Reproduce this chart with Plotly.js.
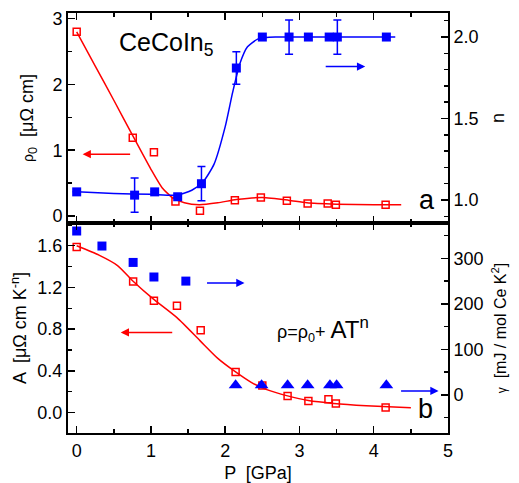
<!DOCTYPE html>
<html>
<head>
<meta charset="utf-8">
<script src="https://cdn.plot.ly/plotly-3.0.1.min.js"></script>
<style>html,body{margin:0;padding:0;background:#fff;}#chart{width:519px;height:483px;}</style>
</head>
<body>
<div id="chart"></div>
<script>
// ---- Panel a: residual resistivity rho0 (left) and exponent n (right) ----
var rhoP   = [0, 0.755, 1.04, 1.33, 1.66, 2.13, 2.48, 2.83, 3.11, 3.38, 3.49, 4.16];
var rho0   = [2.80, 1.19, 0.97, 0.22, 0.08, 0.24, 0.28, 0.23, 0.19, 0.19, 0.17, 0.17];
var rhoFitP = [0, 0.25, 0.5, 0.76, 1.0, 1.15, 1.3, 1.45, 1.65, 1.9, 2.15, 2.5, 2.85, 3.1, 3.5, 4.0, 4.37];
var rhoFit  = [2.80, 2.28, 1.76, 1.21, 0.71, 0.43, 0.27, 0.20, 0.17, 0.20, 0.25, 0.28, 0.24, 0.20, 0.18, 0.17, 0.17];

var nP    = [0, 0.78, 1.05, 1.36, 1.68, 2.15, 2.5, 2.86, 3.12, 3.40, 3.51, 4.17];
var nVal  = [1.05, 1.03, 1.05, 1.02, 1.10, 1.81, 2.0, 2.0, 2.0, 2.0, 2.0, 2.0];
var nErr  = [0, 0.105, 0, 0, 0.105, 0.10, 0, 0.105, 0, 0, 0.105, 0];
var nFitP = [0, 0.5, 1.0, 1.35, 1.55, 1.7, 1.85, 2.0, 2.1, 2.2, 2.3, 2.45, 2.7, 3.0, 4.29];
var nFit  = [1.05, 1.04, 1.035, 1.03, 1.06, 1.11, 1.22, 1.45, 1.66, 1.84, 1.94, 1.99, 2.0, 2.0, 2.0];

// ---- Panel b: coefficient A (left) and Sommerfeld gamma (right) ----
var aP    = [0, 0.76, 1.04, 1.35, 1.67, 2.14, 2.5, 2.84, 3.12, 3.39, 3.49, 4.16];
var aVal  = [1.587, 1.256, 1.073, 1.025, 0.79, 0.39, 0.26, 0.16, 0.11, 0.128, 0.087, 0.048];
var aFitP = [0, 0.3, 0.55, 0.76, 1.03, 1.35, 1.66, 1.9, 2.14, 2.35, 2.56, 2.84, 3.12, 3.46, 3.9, 4.5];
var aFit  = [1.60, 1.51, 1.41, 1.26, 1.09, 0.91, 0.69, 0.52, 0.39, 0.29, 0.22, 0.16, 0.115, 0.087, 0.065, 0.045];

var gSqP  = [0, 0.34, 0.76, 1.04, 1.47];
var gSq   = [360, 327, 291, 259, 250];
var gTriP = [2.14, 2.49, 2.84, 3.11, 3.41, 3.50, 4.17];
var gTri  = [21, 21, 21, 21, 21, 21, 21];

var RED = '#ff0000', BLUE = '#0000ff';
var FONT = 'Liberation Sans, Arial, sans-serif';

var traces = [
  {x: rhoFitP, y: rhoFit, xaxis: 'x2', yaxis: 'y3', mode: 'lines', line: {color: RED, width: 1.5, shape: 'spline', smoothing: 0.6}, hoverinfo: 'skip'},
  {x: rhoP, y: rho0, xaxis: 'x2', yaxis: 'y3', mode: 'markers', marker: {symbol: 'square-open', size: 7, color: RED, line: {width: 1.5, color: RED}}},
  {x: nFitP, y: nFit, xaxis: 'x2', yaxis: 'y4', mode: 'lines', line: {color: BLUE, width: 1.5, shape: 'spline', smoothing: 0.6}, hoverinfo: 'skip'},
  {x: nP, y: nVal, xaxis: 'x2', yaxis: 'y4', mode: 'markers', marker: {symbol: 'square', size: 9, color: BLUE},
   error_y: {type: 'data', array: nErr, visible: true, color: BLUE, thickness: 1.5, width: 4}},
  {x: aFitP, y: aFit, xaxis: 'x', yaxis: 'y', mode: 'lines', line: {color: RED, width: 1.5, shape: 'spline', smoothing: 0.6}, hoverinfo: 'skip'},
  {x: aP, y: aVal, xaxis: 'x', yaxis: 'y', mode: 'markers', marker: {symbol: 'square-open', size: 7, color: RED, line: {width: 1.5, color: RED}}},
  {x: gSqP, y: gSq, xaxis: 'x', yaxis: 'y2', mode: 'markers', marker: {symbol: 'square', size: 9, color: BLUE}},
  {x: gTriP, y: gTri, xaxis: 'x', yaxis: 'y2', mode: 'markers', marker: {symbol: 'triangle-up', size: 12, color: BLUE}}
];

function ax(extra) {
  var base = {
    showline: true, linecolor: 'black', linewidth: 2, ticks: 'inside', ticklen: 7, tickwidth: 1.5,
    tickcolor: 'black', showgrid: false, zeroline: false, tickfont: {family: FONT, size: 18, color: 'black'}
  };
  for (var k in extra) base[k] = extra[k];
  return base;
}

var layout = {
  width: 519, height: 483, showlegend: false,
  paper_bgcolor: 'white', plot_bgcolor: 'white',
  margin: {l: 68, r: 71, t: 13, b: 50},
  font: {family: FONT, color: 'black'},
  xaxis: ax({domain: [0, 1], anchor: 'y', range: [-0.117, 5.0], dtick: 1, tick0: 0, mirror: 'ticks',
             minor: {dtick: 0.5, ticks: 'inside', ticklen: 4, tickwidth: 1.5, tickcolor: 'black'},
             title: {text: 'P  [GPa]', font: {family: FONT, size: 18}, standoff: 7}}),
  yaxis: ax({domain: [0, 0.5], anchor: 'x', range: [-0.196, 1.818], dtick: 0.4, tick0: 0, tickformat: '.1f',
             minor: {dtick: 0.2, ticks: 'inside', ticklen: 4, tickwidth: 1.5, tickcolor: 'black'},
             title: {text: 'A  [μΩ cm K<sup>-n</sup>]', font: {family: FONT, size: 18}, standoff: 6}}),
  yaxis2: ax({overlaying: 'y', side: 'right', anchor: 'x', range: [-83.6, 377.6], dtick: 100, tick0: 0,
             minor: {dtick: 50, ticks: 'inside', ticklen: 4, tickwidth: 1.5, tickcolor: 'black'},
             title: {text: '<span style="font-size:12px">γ</span>  [mJ / mol Ce K<sup>2</sup>]', font: {family: FONT, size: 16}, standoff: 12}}),
  xaxis2: ax({domain: [0, 1], anchor: 'y3', matches: 'x', range: [-0.117, 5.0], dtick: 1, tick0: 0, mirror: 'ticks', showticklabels: false,
             minor: {dtick: 0.5, ticks: 'inside', ticklen: 4, tickwidth: 1.5, tickcolor: 'black'}}),
  yaxis3: ax({domain: [0.5, 1], anchor: 'x2', range: [-0.107, 3.087], dtick: 1, tick0: 0,
             minor: {dtick: 0.5, ticks: 'inside', ticklen: 4, tickwidth: 1.5, tickcolor: 'black'},
             title: {text: '<span style="font-size:14px">ρ</span><sub>0</sub>  [μΩ cm]', font: {family: FONT, size: 18}, standoff: 14}}),
  yaxis4: ax({overlaying: 'y3', side: 'right', anchor: 'x2', range: [0.859, 2.1475], dtick: 0.5, tick0: 0, tickformat: '.1f',
             minor: {dtick: 0.1, ticks: 'inside', ticklen: 4, tickwidth: 1.5, tickcolor: 'black'},
             title: {text: 'n', font: {family: FONT, size: 18}, standoff: 14}}),
  annotations: [
    {xref: 'x2', yref: 'y3', x: 0.543, y: 2.62, xanchor: 'left', yanchor: 'middle', showarrow: false,
     text: 'CeCoIn<sub>5</sub>', font: {family: FONT, size: 25, color: 'black'}},
    {xref: 'x2', yref: 'y3', x: 4.717, y: 0.244, xanchor: 'center', yanchor: 'middle', showarrow: false,
     text: 'a', font: {family: FONT, size: 27, color: 'black'}},
    {xref: 'x', yref: 'y', x: 4.694, y: 0.035, xanchor: 'center', yanchor: 'middle', showarrow: false,
     text: 'b', font: {family: FONT, size: 27, color: 'black'}},
    {xref: 'x', yref: 'y', x: 2.67, y: 0.80, xanchor: 'left', yanchor: 'middle', showarrow: false,
     text: '<span style="font-size:18px">ρ=ρ<sub>0</sub>+ </span>AT<sup>n</sup>', font: {family: FONT, size: 24, color: 'black'}},
    // arrows
    {xref: 'x2', yref: 'y3', x: 0.08, y: 0.94, ax: 49, ay: 0, showarrow: true, text: '', arrowhead: 2, arrowsize: 1.1, arrowwidth: 1.5, arrowcolor: RED},
    {xref: 'x2', yref: 'y4', x: 3.885, y: 1.819, ax: -41, ay: 0, showarrow: true, text: '', arrowhead: 2, arrowsize: 1.1, arrowwidth: 1.5, arrowcolor: BLUE},
    {xref: 'x', yref: 'y2', x: 2.26, y: 246, ax: -39, ay: 0, showarrow: true, text: '', arrowhead: 2, arrowsize: 1.1, arrowwidth: 1.5, arrowcolor: BLUE},
    {xref: 'x', yref: 'y', x: 0.593, y: 0.768, ax: 53, ay: 0, showarrow: true, text: '', arrowhead: 2, arrowsize: 1.1, arrowwidth: 1.5, arrowcolor: RED},
    {xref: 'x', yref: 'y2', x: 4.873, y: 8.8, ax: -39, ay: 0, showarrow: true, text: '', arrowhead: 2, arrowsize: 1.1, arrowwidth: 1.5, arrowcolor: BLUE}
  ]
};

Plotly.newPlot('chart', traces, layout, {displayModeBar: false, staticPlot: true});
</script>
</body>
</html>
